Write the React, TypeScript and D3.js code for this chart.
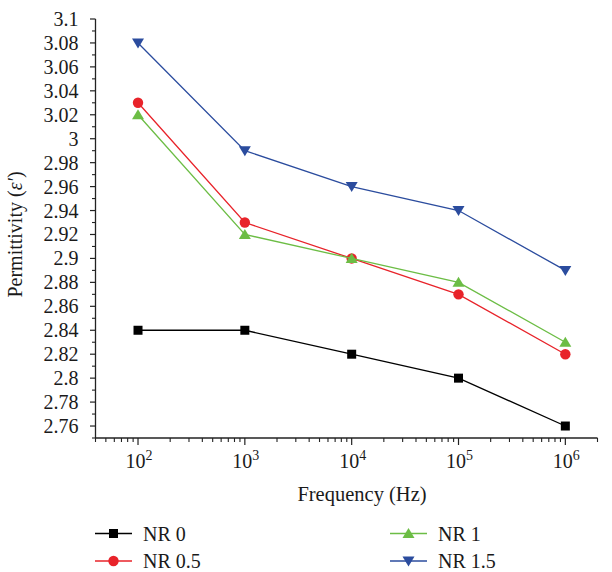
import React from 'react';
import * as d3 from 'd3';

const frequencies = [1e2, 1e3, 1e4, 1e5, 1e6];
const nr0 = [2.84, 2.84, 2.82, 2.8, 2.76];
const nr05 = [3.03, 2.93, 2.9, 2.87, 2.82];
const nr1 = [3.02, 2.92, 2.9, 2.88, 2.83];
const nr15 = [3.08, 2.99, 2.96, 2.94, 2.89];
const seriesNames = ['NR 0', 'NR 0.5', 'NR 1', 'NR 1.5'];
const yTickValues = [2.76, 2.78, 2.8, 2.82, 2.84, 2.86, 2.88, 2.9, 2.92, 2.94, 2.96, 2.98, 3, 3.02, 3.04, 3.06, 3.08, 3.1];
const xTickExponents = [2, 3, 4, 5, 6];

const SERIF = 'Liberation Serif';

const series = [
  { name: seriesNames[0], values: nr0, color: '#000000', shape: 'square' },
  { name: seriesNames[1], values: nr05, color: '#e8232a', shape: 'circle' },
  { name: seriesNames[2], values: nr1, color: '#6cbd45', shape: 'up' },
  { name: seriesNames[3], values: nr15, color: '#2b4c9e', shape: 'down' },
];

function Marker({ shape, x, y, color }: { shape: string; x: number; y: number; color: string }) {
  if (shape === 'square') return <rect x={x - 4.5} y={y - 4.5} width={9} height={9} fill={color} />;
  if (shape === 'circle') return <circle cx={x} cy={y} r={5.2} fill={color} />;
  if (shape === 'up') return <path d={`M${x},${y - 5.5}L${x + 6},${y + 4.5}L${x - 6},${y + 4.5}Z`} fill={color} />;
  return <path d={`M${x},${y + 5.5}L${x + 6},${y - 4.5}L${x - 6},${y - 4.5}Z`} fill={color} />;
}

export default function App() {
  const width = 612;
  const height = 572;
  const left = 95.5;
  const right = 597.5;
  const top = 19;
  const bottom = 438;

  const x = d3.scaleLog().domain([40, 2e6]).range([left, right]);
  const y = d3.scaleLinear().domain([2.75, 3.1]).range([bottom, top]);

  // minor log ticks 2..9 per decade inside the domain
  const xMinor: number[] = [];
  for (let e = 1; e <= 6; e++) {
    for (let m = 2; m <= 9; m++) {
      const v = m * Math.pow(10, e);
      if (v >= 40 && v <= 2e6) xMinor.push(v);
    }
  }
  const yMinor = yTickValues.slice(0, -1).map((v) => +(v + 0.01).toFixed(2)).concat([2.75]);

  const line = d3.line<number>()
    .x((d, i) => x(frequencies[i]))
    .y((d) => y(d));

  return (
    <svg width={width} height={height} style={{ position: 'absolute', left: 0, top: 0 }}>
      <rect width={width} height={height} fill="#fff" />

      {/* y axis */}
      <line x1={left} x2={left} y1={top} y2={bottom} stroke="#222" strokeWidth={1.3} />
      {yTickValues.map((v) => (
        <g key={v}>
          <line x1={left - 5.5} x2={left} y1={y(v)} y2={y(v)} stroke="#222" strokeWidth={1.2} />
          <text x={78.5} y={y(v)} dy="0.35em" textAnchor="end" fontSize={20} fill="#1a1a1a" fontFamily={SERIF}>
            {d3.format('')(v)}
          </text>
        </g>
      ))}
      {yMinor.map((v) => (
        <line key={'m' + v} x1={left - 3.5} x2={left} y1={y(v)} y2={y(v)} stroke="#222" strokeWidth={1.1} />
      ))}

      {/* x axis */}
      <line x1={left} x2={right} y1={bottom} y2={bottom} stroke="#222" strokeWidth={1.3} />
      {xMinor.map((v) => (
        <line key={'xm' + v} x1={x(v)} x2={x(v)} y1={bottom} y2={bottom + 4} stroke="#222" strokeWidth={1.1} />
      ))}
      {xTickExponents.map((e) => {
        const v = Math.pow(10, e);
        return (
          <g key={e}>
            <line x1={x(v)} x2={x(v)} y1={bottom} y2={bottom + 7} stroke="#222" strokeWidth={1.2} />
            <text x={x(v) + 1} y={468} textAnchor="middle" fontSize={20} fill="#1a1a1a" fontFamily={SERIF}>
              10<tspan dy={-8} fontSize={14}>{e}</tspan>
            </text>
          </g>
        );
      })}

      {/* axis titles */}
      <text x={362} y={501} textAnchor="middle" fontSize={20.5} fill="#1a1a1a" fontFamily={SERIF}>Frequency (Hz)</text>
      <text transform={`translate(22,${(top + bottom) / 2 + 6}) rotate(-90)`} textAnchor="middle" fontSize={20} fill="#1a1a1a" fontFamily={SERIF}>
        Permittivity (<tspan fontStyle="italic">ε′</tspan>)
      </text>

      {/* series */}
      {series.map((s) => (
        <g key={s.name}>
          <path d={line(s.values) || ''} fill="none" stroke={s.color} strokeWidth={1.3} />
          {s.values.map((v, i) => (
            <Marker key={i} shape={s.shape} x={x(frequencies[i])} y={y(v)} color={s.color} />
          ))}
        </g>
      ))}

      {/* legend */}
      {series.map((s, i) => {
        const lx = i < 2 ? 95 : 390;
        const ly = i % 2 === 0 ? 533.5 : 561;
        return (
          <g key={'lg' + s.name}>
            <line x1={lx} x2={lx + 37} y1={ly} y2={ly} stroke={s.color} strokeWidth={1.3} />
            <Marker shape={s.shape} x={lx + 18.5} y={ly} color={s.color} />
            <text x={lx + 48} y={ly} dy="0.35em" fontSize={20} fill="#1a1a1a" fontFamily={SERIF}>{s.name}</text>
          </g>
        );
      })}
    </svg>
  );
}
